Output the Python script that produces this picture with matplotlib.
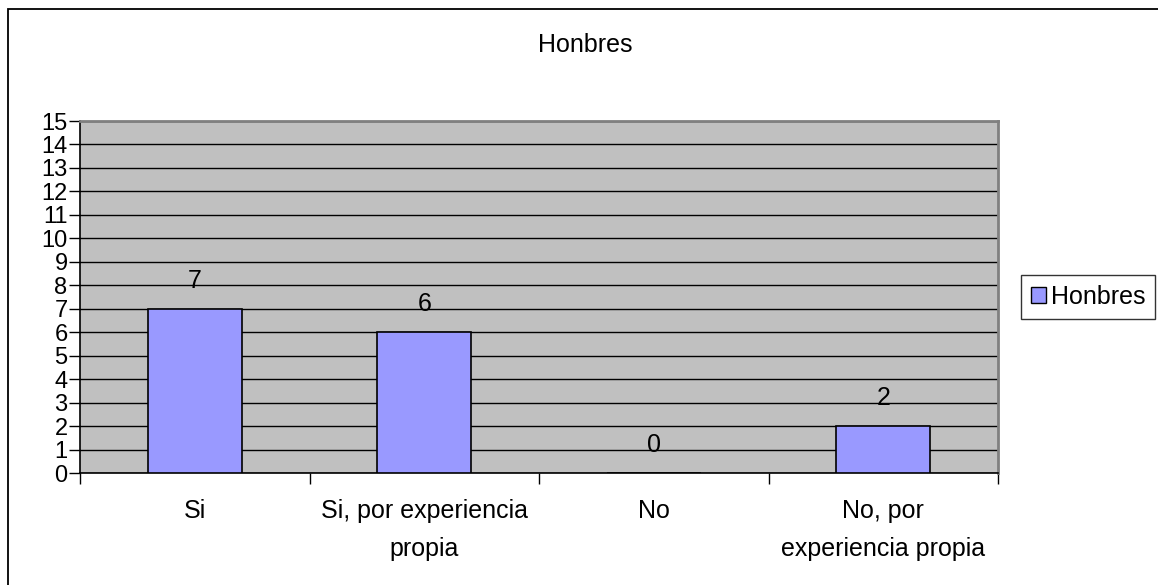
import matplotlib
matplotlib.use("Agg")
import matplotlib.pyplot as plt
from matplotlib.patches import Rectangle, Patch

categories = ["Si", "Si, por experiencia\npropia", "No", "No, por\nexperiencia propia"]
values = [7, 6, 0, 2]
series_name = "Honbres"
title = "Honbres"
yticks = list(range(0, 16))

plt.rcParams['font.family'] = ['Liberation Sans', 'DejaVu Sans']
FS = 18

fig = plt.figure(figsize=(11.58, 5.85), dpi=100)
W, H = 1158, 585
ax = fig.add_axes([80 / W, 1 - 473 / H, (998 - 80) / W, (473 - 121) / H])
ax.set_facecolor('#c0c0c0')

x = list(range(len(categories)))
ax.bar(x, values, width=0.41, color='#9999ff', edgecolor='black', linewidth=1.2, zorder=3)
ax.set_xlim(-0.5, len(categories) - 0.5)
ax.set_ylim(0, 15)
ax.set_yticks(yticks)
ax.set_yticklabels([str(t) for t in yticks], fontsize=17)
ax.yaxis.grid(True, color='black', linewidth=1.0, zorder=1)
ax.set_axisbelow(True)

ax.set_xticks([i + 0.5 for i in range(-1, len(categories))])
ax.set_xticklabels([])
ax.set_xticks(x, minor=True)
ax.set_xticklabels(categories, minor=True, fontsize=FS, linespacing=1.72)
ax.tick_params(axis='x', which='minor', length=0, pad=19)
ax.tick_params(axis='x', which='major', length=8, width=1, color='black', direction='out')
ax.tick_params(axis='y', length=8, width=1, pad=1)

for sp in ['left', 'bottom']:
    ax.spines[sp].set_color('black')
    ax.spines[sp].set_linewidth(1.2)
for sp in ['top', 'right']:
    ax.spines[sp].set_color('#808080')
    ax.spines[sp].set_linewidth(2)

for xi, v in zip(x, values):
    ax.annotate(str(v), (xi, v), xytext=(0, 20), textcoords='offset points',
                ha='center', va='center', fontsize=FS)

fig.text(585 / W, 1 - 52 / H, title, ha='center', va='baseline', fontsize=FS)

leg = fig.legend(handles=[Patch(facecolor='#9999ff', edgecolor='black', label=series_name)],
                 loc='center', bbox_to_anchor=(1088 / W, 1 - 297 / H), fontsize=FS,
                 frameon=True, fancybox=False, edgecolor='black', handlelength=0.6,
                 handleheight=0.6, handletextpad=0.2, borderpad=0.4, borderaxespad=0)
leg.get_frame().set_linewidth(1.0)

fig.patches.append(Rectangle((8 / W, -0.1), 1.2, 1 - 9 / H + 0.1, transform=fig.transFigure,
                             fill=False, edgecolor='black', linewidth=1.3))

fig.savefig('out.png', dpi=100)
